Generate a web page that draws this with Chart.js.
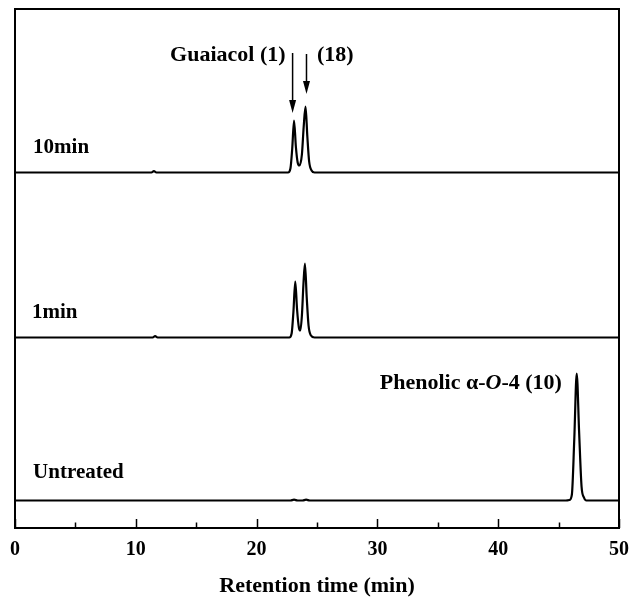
<!DOCTYPE html>
<html><head><meta charset="utf-8">
<script src="https://cdn.jsdelivr.net/npm/chart.js@4"></script>
<style>html,body{margin:0;padding:0;background:#fff}</style>
</head><body>
<canvas id="c" width="632" height="597"></canvas>
<script>
// ---- data (retention time in min, signal height above each trace's baseline) ----
const traceNames = ['10min', '1min', 'Untreated'];
const baselineOffsets = [355.5, 190.5, 27.5];

const time10 = [0, 5, 11.3, 11.5, 11.7, 20, 22.6, 22.8, 22.95, 23.1, 23.25, 23.4, 23.55, 23.75, 23.9, 24.05, 24.2, 24.35, 24.55, 24.8, 30, 40, 50];
const signal10 = [0, 0, 0, 1.5, 0, 0, 0, 4, 24, 52, 26, 10, 7, 18, 46, 66, 36, 11, 2, 0, 0, 0, 0];

const time1 = [0, 5, 11.4, 11.6, 11.8, 20, 22.7, 22.9, 23.05, 23.2, 23.35, 23.5, 23.62, 23.75, 23.88, 24.0, 24.15, 24.3, 24.5, 24.8, 30, 40, 50];
const signal1 = [0, 0, 0, 1.5, 0, 0, 0, 4, 26, 56, 28, 10, 7, 22, 54, 74, 40, 12, 2, 0, 0, 0, 0];

const timeU = [0, 10, 22.8, 23.1, 23.4, 23.8, 24.1, 24.4, 30, 45.6, 45.9, 46.1, 46.3, 46.5, 46.7, 46.9, 47.1, 47.3, 50];
const signalU = [0, 0, 0, 0.8, 0, 0, 0.8, 0, 0, 0, 0.5, 6, 62, 127, 68, 14, 3, 0, 0];

const xTickValues = [0, 10, 20, 30, 40, 50];
const xTitle = 'Retention time (min)';

// ---- annotation placement (data coordinates) ----
const annot = {
  seriesLabels: [{t: 1.5, v: 380}, {t: 1.4, v: 215}, {t: 1.5, v: 55}],
  guaiacol: {text: 'Guaiacol (1)', t: 22.4, v: 473},
  cmp18: {text: '(18)', t: 25.0, v: 473},
  arrows: [{t: 22.98, from: 475, to: 415}, {t: 24.13, from: 474, to: 434}],
  phenolic: {t: 30.2, v: 145}
};

function build(times, sig, off) { return times.map((t, i) => ({x: t, y: off + sig[i]})); }

const FONT = "'Liberation Serif', 'Times New Roman', serif";

const decor = {
  id: 'decor',
  afterDatasetsDraw(chart) {
    const {ctx, chartArea: a, scales: {x, y}} = chart;
    ctx.save();
    ctx.strokeStyle = '#000'; ctx.lineWidth = 2;
    ctx.strokeRect(a.left, a.top, a.right - a.left, a.bottom - a.top);
    ctx.lineWidth = 1.5;
    for (let v = 0; v <= 50; v += 5) {
      const px = Math.round(x.getPixelForValue(v)) + 0.5;
      const len = (v % 10 === 0) ? 9 : 5.5;
      ctx.beginPath(); ctx.moveTo(px, a.bottom); ctx.lineTo(px, a.bottom - len); ctx.stroke();
    }
    ctx.fillStyle = '#000';
    ctx.textBaseline = 'middle';
    ctx.font = 'bold 21px ' + FONT; ctx.textAlign = 'left';
    traceNames.forEach((n, i) => {
      const p = annot.seriesLabels[i];
      ctx.fillText(n, x.getPixelForValue(p.t), y.getPixelForValue(p.v));
    });
    ctx.font = 'bold 22px ' + FONT;
    ctx.textAlign = 'right';
    ctx.fillText(annot.guaiacol.text, x.getPixelForValue(annot.guaiacol.t), y.getPixelForValue(annot.guaiacol.v));
    ctx.textAlign = 'left';
    ctx.fillText(annot.cmp18.text, x.getPixelForValue(annot.cmp18.t), y.getPixelForValue(annot.cmp18.v));
    ctx.lineWidth = 1.5;
    annot.arrows.forEach(ar => {
      const px = x.getPixelForValue(ar.t), y0 = y.getPixelForValue(ar.from), y1 = y.getPixelForValue(ar.to);
      ctx.beginPath(); ctx.moveTo(px, y0); ctx.lineTo(px, y1 - 10); ctx.stroke();
      ctx.beginPath(); ctx.moveTo(px, y1); ctx.lineTo(px - 3.5, y1 - 13); ctx.lineTo(px + 3.5, y1 - 13); ctx.closePath(); ctx.fill();
    });
    let px = x.getPixelForValue(annot.phenolic.t); const py = y.getPixelForValue(annot.phenolic.v);
    const segs = [['Phenolic ', 'bold'], ['\u03B1', 'bold'], ['-', 'bold'], ['O', 'bold italic'], ['-4 (10)', 'bold']];
    segs.forEach(([s, st]) => {
      ctx.font = st + ' 22px ' + FONT;
      ctx.fillText(s, px, py);
      px += ctx.measureText(s).width;
    });
    ctx.restore();
  }
};

const series = [build(time10, signal10, baselineOffsets[0]), build(time1, signal1, baselineOffsets[1]), build(timeU, signalU, baselineOffsets[2])];

new Chart(document.getElementById('c'), {
  type: 'line',
  data: {
    datasets: series.map((d, i) => ({
      label: traceNames[i], data: d, borderColor: '#000', borderWidth: 2.2,
      pointRadius: 0, cubicInterpolationMode: 'monotone', fill: false
    }))
  },
  options: {
    responsive: false, animation: false, devicePixelRatio: 1,
    layout: {padding: {left: 15, right: 13, top: 9, bottom: 0}},
    plugins: {legend: {display: false}, tooltip: {enabled: false}},
    scales: {
      x: {
        type: 'linear', min: 0, max: 50,
        afterBuildTicks(s) { s.ticks = xTickValues.map(v => ({value: v})); },
        afterFit(s) { s.height = 69; s.paddingLeft = 0; s.paddingRight = 0; },
        grid: {display: false, drawTicks: false},
        border: {display: false},
        ticks: {padding: 10, color: '#000', font: {family: FONT, size: 20, weight: 'bold'}, maxRotation: 0, autoSkip: false},
        title: {display: true, text: xTitle, color: '#000', padding: {top: 0, bottom: 0}, font: {family: FONT, size: 22, weight: 'bold', lineHeight: 1.0}}
      },
      y: {type: 'linear', min: 0, max: 519, display: false}
    }
  },
  plugins: [decor]
});
</script>
</body></html>
